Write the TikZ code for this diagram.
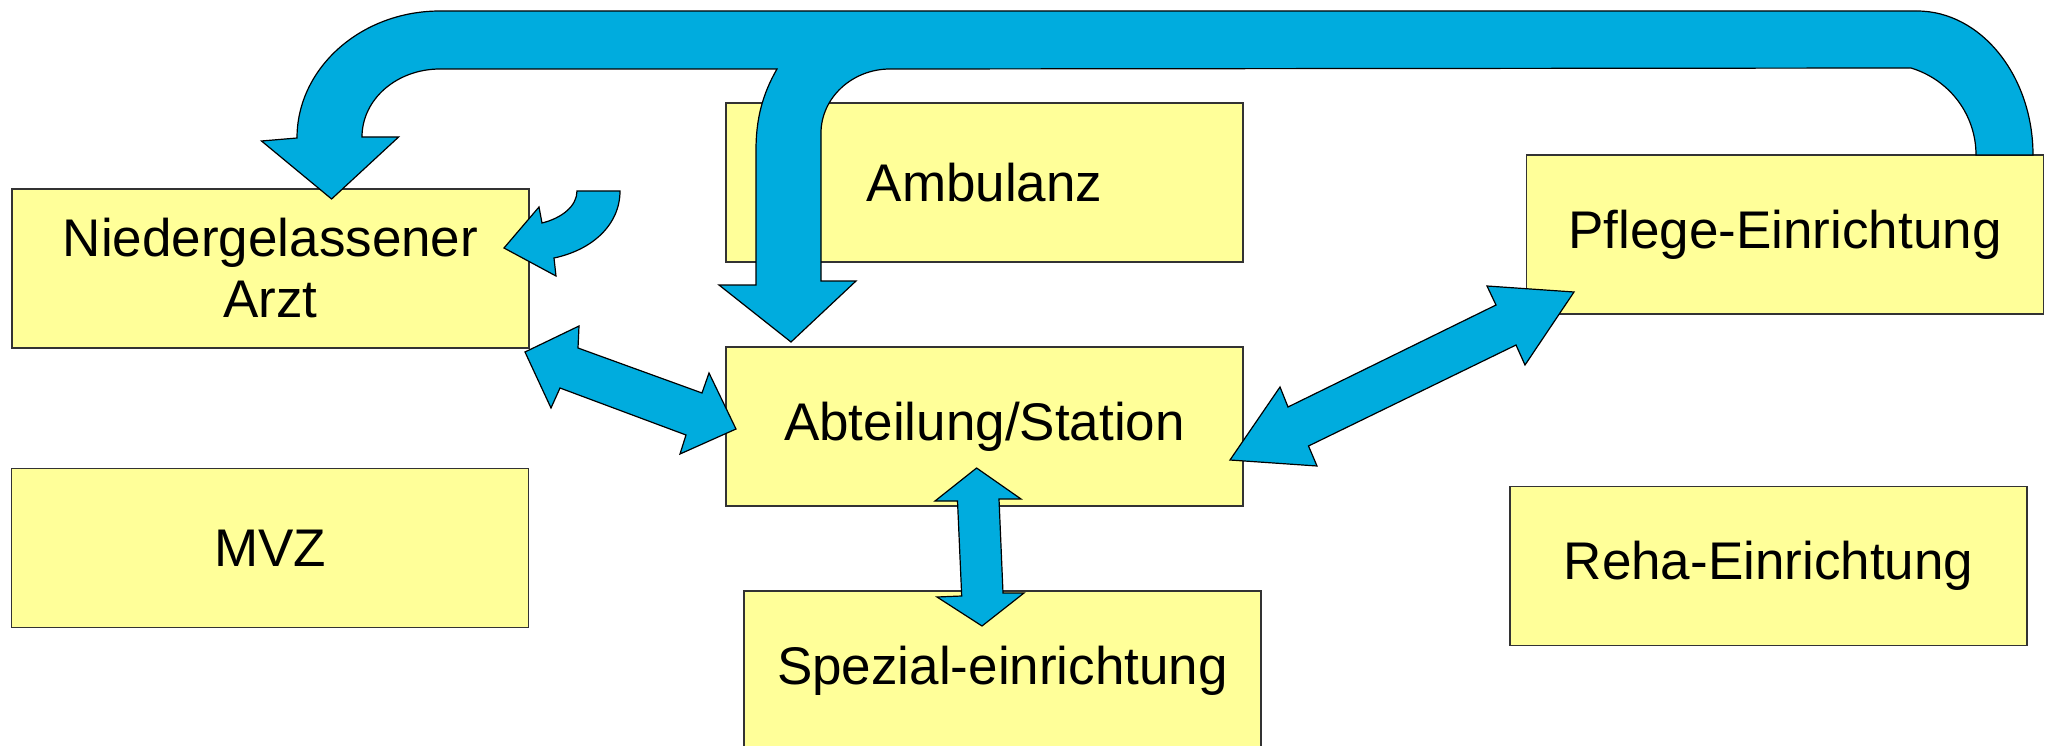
\documentclass[tikz,border=0pt]{standalone}
\usepackage{fontspec}
\setmainfont{Liberation Sans}
\definecolor{boxfill}{RGB}{255,255,153}
\definecolor{arrowblue}{RGB}{0,172,222}
\begin{document}
\begin{tikzpicture}[x=1pt,y=-1pt,
  box/.style={draw=black!80, line width=1.5pt, fill=boxfill,
    minimum width=517pt, minimum height=159pt, inner sep=0pt,
    align=center, font=\fontsize{53}{61}\selectfont},
  blockarrow/.style={fill=arrowblue, draw=black, line width=1.2pt, line join=miter}]
\useasboundingbox (0,0) rectangle (2051,746);
\clip (0,0) rectangle (2051,746);
% boxes
\node[box] (nied) at (270.5,268.5) {Niedergelassener\\Arzt};
\node[box] (amb) at (984.5,182.5) {Ambulanz};
\node[box] (pflege) at (1785,234.5) {Pflege-Einrichtung};
\node[box] (abt) at (984.5,426.5) {Abteilung/Station};
\node[box] (mvz) at (270,548) {MVZ};
\node[box] (spez) at (1002.5,670.5) {Spezial-einrichtung};
\node[box] (reha) at (1768.5,566) {Reha-Einrichtung};
% big arrow from Pflege-Einrichtung to Arzt and Station
\draw[blockarrow] (2033,155) .. controls (2033,76) and (1981,11) .. (1917,11)
  -- (440,11) .. controls (361,11) and (297,68) .. (297,138)
  -- (261.5,141) -- (331.6,199) -- (398.6,137) -- (362,137)
  .. controls (362,99) and (397,69) .. (440,69)
  -- (777,69) .. controls (762,95) and (756,120) .. (756,150)
  -- (756,285) -- (719,285) -- (791,342) -- (856,281) -- (821,281)
  -- (821,133) .. controls (821,98) and (852,69) .. (890,69)
  -- (1911,68) .. controls (1950,80) and (1976,115) .. (1976,155) -- cycle;
% small curved arrow back to Arzt
\draw[blockarrow] (577,191) -- (620,191) .. controls (620,225) and (592,250) .. (554,258)
  -- (556,276) -- (504,248) -- (539,207) -- (542,223)
  .. controls (562,218) and (577,206) .. (577,191) -- cycle;
% Arzt <-> Station
\draw[blockarrow] (525,352) -- (579,326) -- (578,348) -- (702,393) -- (709,373)
  -- (736,429) -- (680,454) -- (686,435) -- (560,388) -- (551,408) -- cycle;
% Station <-> Pflege
\draw[blockarrow] (1230,460) -- (1280,387) -- (1288,407) -- (1496,305) -- (1487,286)
  -- (1574,292) -- (1525,365) -- (1516,345) -- (1308.5,446) -- (1317,466) -- cycle;
% Station <-> Spezial
\draw[blockarrow] (976.6,468) -- (1021,499) -- (999,499) -- (1003,593) -- (1024,593)
  -- (982,626) -- (937,597) -- (961.7,596) -- (957.5,501) -- (935,501) -- cycle;
\end{tikzpicture}
\end{document}
